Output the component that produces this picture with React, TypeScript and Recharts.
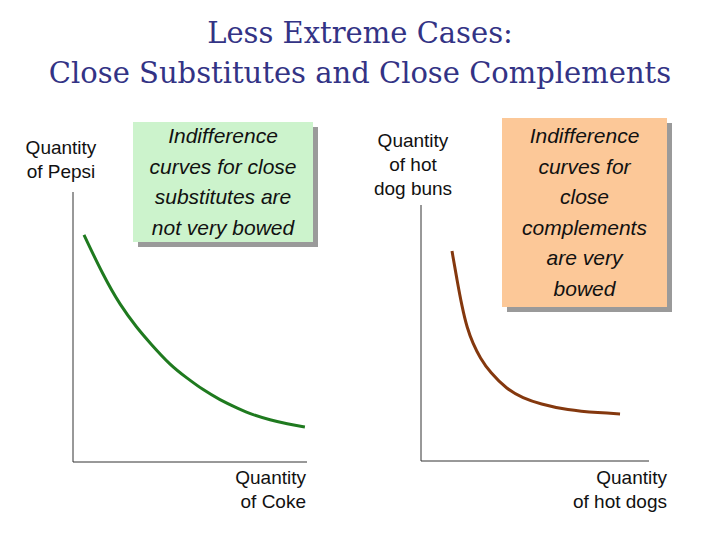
import { LineChart, Line, XAxis, YAxis } from "recharts"

// Close substitutes curve (Pepsi vs Coke), domain 0..10 on both axes
const subsX = [0.47, 1.28, 2.01, 2.74, 3.29, 4.15, 4.87, 5.56, 6.28, 7.01, 7.69, 8.42, 9.15, 9.91]
const subsY = [8.41, 6.93, 5.81, 4.96, 4.41, 3.59, 3.11, 2.67, 2.3, 2.0, 1.74, 1.56, 1.41, 1.3]

// Close complements curve (buns vs hot dogs)
const compX = [1.36, 1.58, 1.8, 2.02, 2.28, 2.59, 3.03, 3.77, 4.47, 5.22, 6.4, 7.85, 8.73]
const compY = [8.2, 7.07, 6.02, 5.2, 4.58, 4.03, 3.46, 2.8, 2.46, 2.23, 1.99, 1.88, 1.84]

const titleLines = ["Less Extreme Cases:", "Close Substitutes and Close Complements"]
const subsNote = ["Indifference", "curves for close", "substitutes are", "not very bowed"]
const compNote = ["Indifference", "curves for", "close", "complements", "are very", "bowed"]

const sans = "'Liberation Sans', Arial, sans-serif"

function Curve({ xs, ys, color, left, top, width, height }) {
  const data = xs.map((x, i) => ({ x, y: ys[i] }))
  return (
    <div style={{ position: "absolute", left, top }}>
      <LineChart width={width} height={height} data={data} margin={{ top: 0, right: 0, left: 0, bottom: 0 }}>
        <XAxis dataKey="x" type="number" domain={[0, 10]} height={1} tick={false} tickLine={false} axisLine={{ stroke: "#333" }} />
        <YAxis type="number" domain={[0, 10]} width={1} tick={false} tickLine={false} axisLine={{ stroke: "#333" }} />
        <Line type="basis" dataKey="y" stroke={color} strokeWidth={3} dot={false} isAnimationActive={false} />
      </LineChart>
    </div>
  )
}

function Note({ lines, left, top, width, height, fill }) {
  return (
    <>
      <div style={{ position: "absolute", left: left + 5, top: top + 5, width, height, background: "#9a9a9a" }} />
      <div
        style={{
          position: "absolute", left, top, width, height, background: fill,
          display: "flex", flexDirection: "column", justifyContent: "center", alignItems: "center",
          fontFamily: sans, fontStyle: "italic", fontSize: 21, lineHeight: "30.5px", color: "#111",
        }}
      >
        {lines.map((l) => <div key={l}>{l}</div>)}
      </div>
    </>
  )
}

function Label({ lines, left, top, width, align }) {
  return (
    <div style={{ position: "absolute", left, top, width, textAlign: align, fontFamily: sans, fontSize: 19, lineHeight: "24px", color: "#111" }}>
      {lines.map((l) => <div key={l}>{l}</div>)}
    </div>
  )
}

export default function App() {
  return (
    <div style={{ position: "absolute", left: 0, top: 0, width: 720, height: 540, background: "#fff", overflow: "hidden" }}>
      <div style={{ position: "absolute", left: 0, top: 13, width: 720, textAlign: "center", fontFamily: "'DejaVu Serif', serif", fontSize: 29, lineHeight: "40px", color: "#333385" }}>
        {titleLines.map((l) => <div key={l}>{l}</div>)}
      </div>

      <Label lines={["Quantity", "of Pepsi"]} left={11} top={136} width={100} align="center" />
      <Label lines={["Quantity", "of hot", "dog buns"]} left={363} top={129} width={100} align="center" />
      <Label lines={["Quantity", "of Coke"]} left={206} top={466} width={100} align="right" />
      <Label lines={["Quantity", "of hot dogs"]} left={547} top={466} width={120} align="right" />

      <Curve xs={subsX} ys={subsY} color="#1f7a1f" left={72} top={192} width={235} height={271} />
      <Curve xs={compX} ys={compY} color="#84380e" left={420} top={205} width={229} height={257} />

      <Note lines={subsNote} left={133} top={122} width={180} height={120} fill="#ccf3cc" />
      <Note lines={compNote} left={502} top={118} width={165} height={189} fill="#fcc898" />
    </div>
  )
}
